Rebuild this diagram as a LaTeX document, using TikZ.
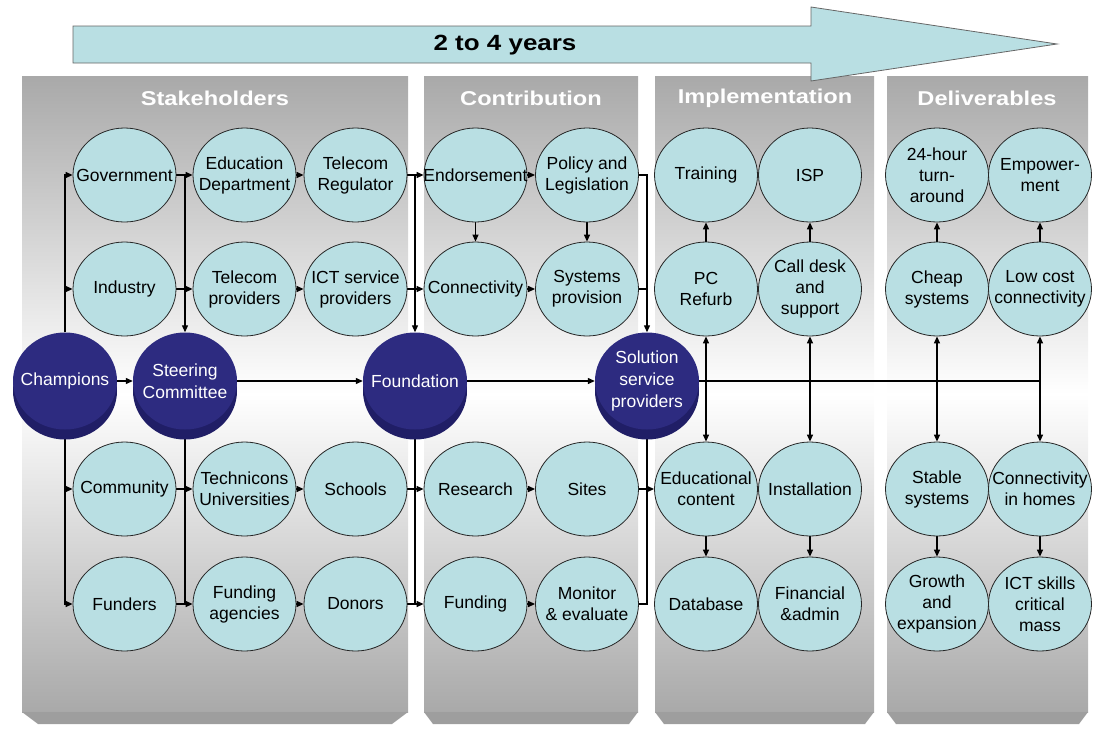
\documentclass[tikz,border=0pt]{standalone}
\usepackage{fontspec}
\setmainfont{Liberation Sans}
\newfontfamily\widefont[FakeStretch=1.18]{Liberation Sans}
\usetikzlibrary{shapes.geometric,arrows.meta,shadows}
\definecolor{bubblefill}{HTML}{B9DFE3}
\definecolor{navy}{HTML}{2D2B80}
\definecolor{navybase}{HTML}{201E66}
\definecolor{panelgray}{HTML}{A9A9A9}
\definecolor{bevelgray}{HTML}{9E9E9E}
\pgfdeclarelayer{panels}
\pgfdeclarelayer{links}
\pgfsetlayers{panels,links,main}

\begin{document}
\begin{tikzpicture}[
    x=1pt, y=-1pt,
    bubble/.style={ellipse, draw=black!85, fill=bubblefill, line width=0.8pt, minimum width=103, minimum height=94, inner xsep=-22pt, inner ysep=0pt, align=center, font=\fontsize{17.5}{21}\selectfont},
    disk/.style={ellipse, fill=navy, minimum width=104, minimum height=97, inner xsep=-22pt, inner ysep=0pt, align=center, text=white, font=\fontsize{17.5}{22}\selectfont, drop shadow={shadow xshift=0pt, shadow yshift=-10pt, fill=navybase, opacity=1}},
    panel/.style={top color=panelgray, bottom color=panelgray, middle color=white},
    bevel/.style={fill=bevelgray},
    heading/.style={text=white, font=\widefont\bfseries\fontsize{20}{24}\selectfont},
    timebar/.style={fill=bubblefill, draw=black!60, line width=0.8pt},
    arrow/.style={->, >={Triangle[length=7pt,width=6pt]}, line width=1.2pt},
    twoway/.style={<->, >={Triangle[length=7pt,width=6pt]}, line width=1.2pt},
    link/.style={line width=1.2pt}
]
\useasboundingbox (0,0) rectangle (1104,732);

% Panels
\begin{pgfonlayer}{panels}
\shade[panel] (22,76) rectangle (408,712);
\fill[bevel] (22,712) -- (408,712) -- (392,724) -- (38,724) -- cycle;
\shade[panel] (424,76) rectangle (638,712);
\fill[bevel] (424,712) -- (638,712) -- (629,724) -- (433,724) -- cycle;
\shade[panel] (655,76) rectangle (874,712);
\fill[bevel] (655,712) -- (874,712) -- (865,724) -- (664,724) -- cycle;
\shade[panel] (887,76) rectangle (1088,712);
\fill[bevel] (887,712) -- (1088,712) -- (1079,724) -- (896,724) -- cycle;
\end{pgfonlayer}

% Headings
\node[heading] (hStake) at (215,98) {Stakeholders};
\node[heading] (hContrib) at (531,98) {Contribution};
\node[heading] (hImpl) at (765,98) {Implementation};
\node[heading] (hDeliv) at (987,98) {Deliverables};

% Time arrow
\draw[timebar] (73,26) -- (811,26) -- (811,7) -- (1057,44) -- (811,81) -- (811,63) -- (73,63) -- cycle;
\node[font=\widefont\bfseries\fontsize{22}{26}\selectfont] (span) at (505,45) {2 to 4 years};

% Stakeholders
\node[bubble] (gov) at (124.5,175) {Government};
\node[bubble] (edu) at (244.5,175) {Education\\Department};
\node[bubble] (treg) at (355.5,175) {Telecom\\Regulator};
\node[bubble] (ind) at (124.5,289) {Industry};
\node[bubble] (telp) at (244.5,289) {Telecom\\providers};
\node[bubble] (ict) at (355.5,289) {ICT service\\providers};
\node[bubble] (comm) at (124.5,489) {Community};
\node[bubble] (tech) at (244.5,489) {Technicons\\Universities};
\node[bubble] (schools) at (355.5,489) {Schools};
\node[bubble] (funders) at (124.5,604) {Funders};
\node[bubble] (fage) at (244.5,604) {Funding\\agencies};
\node[bubble] (donors) at (355.5,604) {Donors};

% Contribution
\node[bubble] (endo) at (475.5,175) {Endorsement};
\node[bubble] (pol) at (587,175) {Policy and\\Legislation};
\node[bubble] (conn) at (475.5,289) {Connectivity};
\node[bubble] (sys) at (587,289) {Systems\\provision};
\node[bubble] (res) at (475.5,489) {Research};
\node[bubble] (sites) at (587,489) {Sites};
\node[bubble] (fund) at (475.5,604) {Funding};
\node[bubble] (mon) at (587,604) {Monitor\\\& evaluate};

% Implementation
\node[bubble] (train) at (706,175) {Training};
\node[bubble] (isp) at (810,175) {ISP};
\node[bubble] (pc) at (706,289) {PC\\Refurb};
\node[bubble] (call) at (810,289) {Call desk\\and\\support};
\node[bubble] (educ) at (706,489) {Educational\\content};
\node[bubble] (inst) at (810,489) {Installation};
\node[bubble] (db) at (706,604) {Database};
\node[bubble] (fin) at (810,604) {Financial\\\&admin};

% Deliverables
\node[bubble] (h24) at (937,175) {24-hour\\turn-\\around};
\node[bubble] (emp) at (1040,175) {Empower-\\ment};
\node[bubble] (cheap) at (937,289) {Cheap\\systems};
\node[bubble] (lowc) at (1040,289) {Low cost\\connectivity};
\node[bubble] (stable) at (937,489) {Stable\\systems};
\node[bubble] (homes) at (1040,489) {Connectivity\\in homes};
\node[bubble] (grow) at (937,604) {Growth\\and\\expansion};
\node[bubble] (skills) at (1040,604) {ICT skills\\critical\\mass};

% Main chain
\node[disk] (champ) at (65,381) {Champions};
\node[disk] (steer) at (185,381) {Steering\\Committee};
\node[disk] (found) at (415,381) {Foundation};
\node[disk] (sol) at (647,381) {Solution\\service\\providers};

% Connectors
\begin{pgfonlayer}{links}
\draw[arrow] (champ.north) |- (gov.west);
\draw[arrow] (champ.north) |- (ind.west);
\draw[arrow] (champ.south) |- (comm.west);
\draw[arrow] (champ.south) |- (funders.west);
\draw[arrow] (champ.east) -- (steer.west);
\draw[arrow] (steer.east) -- (found.west);
\draw[arrow] (found.east) -- (sol.west);

\draw[arrow] (gov.east) -- (edu.west);
\draw[arrow] (ind.east) -- (telp.west);
\draw[arrow] (comm.east) -- (tech.west);
\draw[arrow] (funders.east) -- (fage.west);
\draw[arrow] (steer.north |- gov.east) -- (steer.north);
\draw[link] (steer.south) -- (steer.south |- fage.west);

\draw[arrow] (edu.east) -- (treg.west);
\draw[arrow] (telp.east) -- (ict.west);
\draw[arrow] (tech.east) -- (schools.west);
\draw[arrow] (fage.east) -- (donors.west);

\draw[arrow] (treg.east) -- (endo.west);
\draw[arrow] (ict.east) -- (conn.west);
\draw[arrow] (schools.east) -- (res.west);
\draw[arrow] (donors.east) -- (fund.west);
\draw[arrow] (found.north |- treg.east) -- (found.north);
\draw[link] (found.south) -- (found.south |- donors.east);

\draw[arrow] (endo.east) -- (pol.west);
\draw[arrow] (conn.east) -- (sys.west);
\draw[arrow] (res.east) -- (sites.west);
\draw[arrow] (fund.east) -- (mon.west);
\draw[arrow] (endo.south) -- (conn.north);
\draw[arrow] (pol.south) -- (sys.north);
\draw[arrow] (pol.east) -| (sol.north);
\draw[link] (sys.east) -- (sys.east -| sol.north);
\draw[arrow] (sites.east) -- (educ.west);
\draw[link] (sol.south) |- (mon.east);

\draw[link] (sol.east) -- (sol.east -| lowc.south);
\draw[twoway] (pc.south) -- (educ.north);
\draw[twoway] (call.south) -- (inst.north);
\draw[twoway] (cheap.south) -- (stable.north);
\draw[twoway] (lowc.south) -- (homes.north);

\draw[arrow] (pc.north) -- (train.south);
\draw[arrow] (call.north) -- (isp.south);
\draw[arrow] (cheap.north) -- (h24.south);
\draw[arrow] (lowc.north) -- (emp.south);
\draw[arrow] (educ.south) -- (db.north);
\draw[arrow] (inst.south) -- (fin.north);
\draw[arrow] (stable.south) -- (grow.north);
\draw[arrow] (homes.south) -- (skills.north);
\end{pgfonlayer}

\end{tikzpicture}
\end{document}
